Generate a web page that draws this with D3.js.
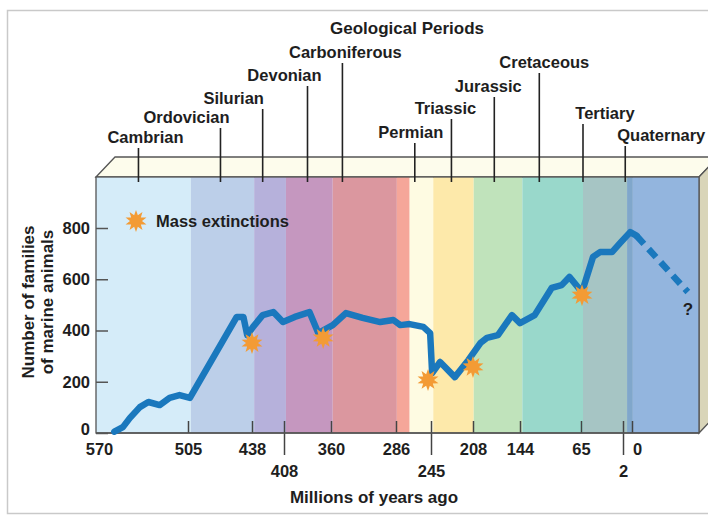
<!DOCTYPE html>
<html>
<head>
<meta charset="utf-8">
<script src="https://cdn.jsdelivr.net/npm/d3@7"></script>
<style>
  body { margin: 0; background: #fff; }
  text { font-family: "Liberation Sans", Arial, sans-serif; font-weight: bold; fill: #1e1e1e; }
</style>
</head>
<body>
<div id="chart"></div>
<script>
// periods and where their label line sits (millions of years ago)
var periods = ["Cambrian", "Ordovician", "Silurian", "Devonian", "Carboniferous", "Permian",
  "Triassic", "Jurassic", "Cretaceous", "Tertiary", "Quaternary"];
var periodMarks = [540, 471, 428, 384, 347, 264, 227, 179, 119, 62, 1.5];

// coloured bands: [from, to] in mya
var bandEdges = [570, 502, 436, 406, 358, 285, 270, 243, 207, 141, 62, 1.1, -0.4, -30];
var bandColors = ["#d5ecf9", "#bccfe9", "#b6b1db", "#c597bf", "#db979f", "#f5a699", "#fefbe2",
  "#fde9aa", "#c0e3bb", "#99d8cb", "#a6c5c4", "#80a7cb", "#93b5de"];

// axis ticks
var tickRow1 = [570, 505, 438, 360, 286, 208, 144, 65, 0];
var tickRow2 = [408, 245, 2];
var yTicks = [0, 200, 400, 600, 800];

// number of families of marine animals [mya, families]
var families = [
  [557, 5], [551, 23], [546, 59], [539, 101], [533, 121], [525, 109], [518, 137], [511, 148],
  [503, 137], [454, 453], [447, 453], [443, 382], [437, 414], [428, 460], [418, 472], [409, 433],
  [397, 453], [382, 472], [373, 390], [358, 421], [343, 468], [324, 449], [304, 433], [289, 441],
  [281, 421], [270, 425], [254, 414], [246, 390], [244, 234], [237, 277], [224, 218], [212, 285],
  [198, 351], [189, 371], [174, 382], [155, 460], [144, 429], [125, 460], [103, 566], [90, 577],
  [80, 609], [63.5, 550], [47, 687], [36.5, 706], [18.5, 706], [6.5, 741], [0.4, 784], [-2, 770]
];
var future = [[-2, 770], [-25, 550]];

// mass extinctions [mya, families]
var extinctions = [[438, 351], [368, 371], [248.5, 207], [208, 258], [63.5, 538]];

function geoChart() {
  var w = 708, h = 518;
  var left = 96, right = 699, top = 177, bottom = 433, depth = 20;

  var svg = d3.select("#chart").append("svg")
    .attr("width", w)
    .attr("height", h);

  // outer frame
  svg.append("rect")
    .attr("x", 7.5).attr("y", 10.5)
    .attr("width", 730).attr("height", 503)
    .attr("fill", "none")
    .attr("stroke", "#c9c9c9")
    .attr("stroke-width", 1.5);

  // the time scale is not linear, so it is built piece by piece
  var x = d3.scaleLinear()
    .domain([570, 505, 438, 408, 360, 286, 245, 208, 144, 65, 2, 0, -30])
    .range([96, 188, 252, 284, 331, 396, 431, 473, 520, 581, 623, 632, 699]);

  var y = d3.scaleLinear()
    .domain([0, 800])
    .range([bottom, 228]);

  //top face of the slab
  svg.append("path")
    .attr("d", "M" + left + "," + top + "L" + (left + 19) + "," + (top - depth) +
      "L" + (right + 19) + "," + (top - depth) + "L" + right + "," + top + "Z")
    .attr("fill", "#fdfcec")
    .attr("stroke", "#555")
    .attr("stroke-width", 1.3);

  //right face
  svg.append("path")
    .attr("d", "M" + right + "," + top + "L" + (right + 19) + "," + (top - depth) +
      "L" + (right + 19) + "," + (bottom - depth) + "L" + right + "," + bottom + "Z")
    .attr("fill", "#d9d5b9")
    .attr("stroke", "#555")
    .attr("stroke-width", 1.3);

  //bands
  var bands = d3.range(bandColors.length).map(function (i) {
    return { from: bandEdges[i], to: bandEdges[i + 1], color: bandColors[i] };
  });
  svg.selectAll("rect.band")
    .data(bands)
    .enter().append("rect")
    .attr("class", "band")
    .attr("x", function (d) { return x(d.from); })
    .attr("y", top)
    .attr("width", function (d) { return x(d.to) - x(d.from); })
    .attr("height", bottom - top)
    .attr("fill", function (d) { return d.color; });

  // front face outline
  svg.append("rect")
    .attr("x", left).attr("y", top)
    .attr("width", right - left).attr("height", bottom - top)
    .attr("fill", "none")
    .attr("stroke", "#555")
    .attr("stroke-width", 1.3);

  //period labels and their lines
  var labelDx = [7, -34, -29, -23, 3, -4, -6, -6, 5, 22, 36];
  var labelY = [143, 123, 104, 81, 58, 138, 114, 92, 68, 119, 141];
  var pl = svg.selectAll("g.period")
    .data(periods)
    .enter().append("g")
    .attr("class", "period");
  pl.append("line")
    .attr("x1", function (d, i) { return x(periodMarks[i]); })
    .attr("x2", function (d, i) { return x(periodMarks[i]); })
    .attr("y1", function (d, i) { return labelY[i] + 5; })
    .attr("y2", top + 5)
    .attr("stroke", "#222")
    .attr("stroke-width", 1.6);
  pl.append("text")
    .attr("x", function (d, i) { return x(periodMarks[i]) + labelDx[i]; })
    .attr("y", function (d, i) { return labelY[i]; })
    .attr("text-anchor", "middle")
    .style("font-size", "16.5px")
    .text(function (d) { return d; });

  svg.append("text")
    .attr("x", 407).attr("y", 34)
    .attr("text-anchor", "middle")
    .style("font-size", "17px")
    .text("Geological Periods");

  //Y axis
  var yAxis = svg.append("g")
    .attr("transform", "translate(" + left + ",0)")
    .call(d3.axisLeft(y).tickValues(yTicks).tickSize(-12).tickPadding(6));
  yAxis.select(".domain").remove();
  yAxis.selectAll("line").attr("stroke", "#555").attr("stroke-width", 1.5);
  yAxis.selectAll("text").style("font-size", "16.5px").attr("fill", "#1e1e1e")
    .attr("y", function (d) { return d === 0 ? -4 : 0; });
  yAxis.attr("font-family", null).attr("font-size", null);

  //X axis, first row
  var xAxis1 = svg.append("g")
    .attr("transform", "translate(0," + bottom + ")")
    .call(d3.axisBottom(x).tickValues(tickRow1).tickSize(-12).tickPadding(10).tickFormat(d3.format("d")));
  xAxis1.select(".domain").remove();
  xAxis1.selectAll("line").attr("stroke", "#444").attr("stroke-width", 1.5)
    .filter(function (d) { return d === 570; }).remove();
  xAxis1.selectAll("text").style("font-size", "16.5px").attr("fill", "#1e1e1e")
    .attr("dx", function (d) { return d === 0 ? 5 : d === 570 ? 3 : 0; });
  xAxis1.attr("font-family", null).attr("font-size", null);

  //X axis, second row (long ticks)
  var xAxis2 = svg.append("g")
    .attr("transform", "translate(0," + bottom + ")")
    .call(d3.axisBottom(x).tickValues(tickRow2).tickSize(22).tickPadding(10).tickFormat(d3.format("d")));
  xAxis2.select(".domain").remove();
  xAxis2.selectAll("line").attr("y1", -12).attr("stroke", "#444").attr("stroke-width", 1.5);
  xAxis2.selectAll("text").style("font-size", "16.5px").attr("fill", "#1e1e1e");
  xAxis2.attr("font-family", null).attr("font-size", null);

  // bottom line
  svg.append("line")
    .attr("x1", left).attr("x2", right)
    .attr("y1", bottom).attr("y2", bottom)
    .attr("stroke", "#555").attr("stroke-width", 1.6);

  svg.append("text")
    .attr("x", 374).attr("y", 503)
    .attr("text-anchor", "middle")
    .style("font-size", "17px")
    .text("Millions of years ago");

  //Y axis title
  var yt = svg.append("text")
    .attr("transform", "translate(34,302) rotate(-90)")
    .attr("text-anchor", "middle")
    .style("font-size", "17px");
  yt.append("tspan").attr("x", 0).attr("dy", 0).text("Number of families");
  yt.append("tspan").attr("x", 0).attr("dy", 19).text("of marine animals");

  //the line
  var line = d3.line()
    .x(function (d) { return x(d[0]); })
    .y(function (d) { return y(d[1]); });

  svg.append("path")
    .datum(future)
    .attr("d", line)
    .attr("fill", "none")
    .attr("stroke", "#1a78bd")
    .attr("stroke-width", 6.5)
    .attr("stroke-dasharray", "11,7");

  svg.append("path")
    .datum(families)
    .attr("d", line)
    .attr("fill", "none")
    .attr("stroke", "#1a78bd")
    .attr("stroke-width", 6.5)
    .attr("stroke-linejoin", "round")
    .attr("stroke-linecap", "round");

  svg.append("text")
    .attr("x", x(-25)).attr("y", y(488) + 7)
    .attr("text-anchor", "middle")
    .style("font-size", "17px")
    .attr("fill", "#1f2a3a")
    .text("?");

  //star shape for mass extinctions
  var starPts = d3.range(20).map(function (i) {
    return [i * Math.PI / 10, i % 2 === 0 ? 11 : 6];
  });
  var star = d3.lineRadial().curve(d3.curveLinearClosed)(starPts);

  svg.selectAll("path.star")
    .data(extinctions)
    .enter().append("path")
    .attr("class", "star")
    .attr("d", star)
    .attr("transform", function (d) { return "translate(" + x(d[0]) + "," + y(d[1]) + ")"; })
    .attr("fill", "#f39b35");

  //legend
  svg.append("path")
    .attr("d", star)
    .attr("transform", "translate(136,221)")
    .attr("fill", "#f39b35");
  svg.append("text")
    .attr("x", 156).attr("y", 227)
    .style("font-size", "16.5px")
    .text("Mass extinctions");
}

geoChart();
</script>
</body>
</html>
